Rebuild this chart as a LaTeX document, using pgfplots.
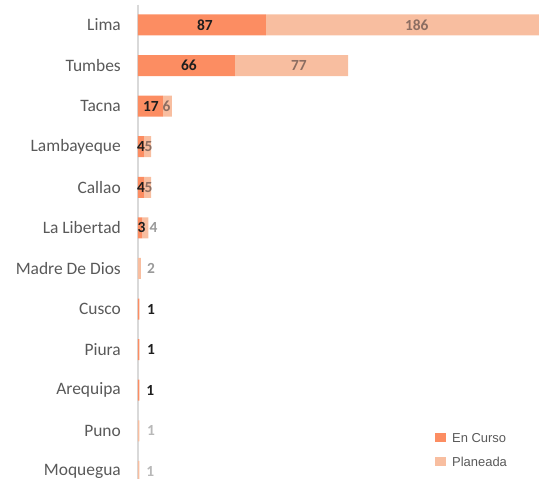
\documentclass[border=0pt]{standalone}
\usepackage{fontspec}
\setmainfont{Carlito}
\newfontfamily\legfont{Liberation Sans}
\usepackage{pgfplots}
\pgfplotsset{compat=1.18}
\usepackage{pgfplotstable}

\definecolor{encurso}{HTML}{FC8D62}
\definecolor{planeada}{HTML}{F8BEA0}
\definecolor{catgray}{HTML}{595959}
\definecolor{lbldark}{HTML}{1E1E1E}
\definecolor{lblbar}{HTML}{8C6E62}
\definecolor{lblout}{HTML}{9A9A9A}
\definecolor{lblfaint}{HTML}{B8B8B8}

\pgfplotstableread{
y encurso planeada
0 87 186
1 66 77
2 17 6
3 4 5
4 4 5
5 3 4
6 0 2
7 1 0
8 1 0
9 1 0
10 0 1
11 0 1
}\bardata

\pgfplotstableread{
x y lbl
45.6 0 87
34.7 1 66
8.8 2 17
2.0 3 4
2.0 4 4
2.4 5 3
8.8 7 1
8.8 8 1
8.4 9 1
}\lblencurso

\pgfplotstableread{
x y lbl
189.8 0 186
109.5 1 77
19.4 2 6
7.1 3 5
7.1 4 5
}\lblplanbar

\pgfplotstableread{
x y lbl
10.5 5 4
8.8 6 2
}\lblplanout

\pgfplotstableread{
x y lbl
8.8 10 1
8.4 11 1
}\lblplanfaint

\pgfplotsset{base/.style={width=401bp, height=487bp, scale only axis,
  xmin=0, xmax=273, ymin=-0.5, ymax=11.5, y dir=reverse}}

\begin{document}
\begin{tikzpicture}
\begin{axis}[base,
  xbar stacked, bar width=21bp,
  axis x line=none, axis y line*=left,
  y axis line style={draw=black!15, line width=1.3bp},
  ytick={0,...,11},
  yticklabels={Lima,Tumbes,Tacna,Lambayeque,Callao,La Libertad,Madre De Dios,Cusco,Piura,Arequipa,Puno,Moquegua},
  major tick length=0pt,
  yticklabel style={font=\fontsize{17.5}{20}\selectfont, text=catgray, inner sep=0pt, xshift=-17bp},
  legend image code/.code={\fill[#1] (0bp,-4.5bp) rectangle (11bp,4.5bp); \path (17bp,0bp);},
  legend cell align=left,
  legend style={at={(0.7406,0.1205)}, anchor=north west, draw=none, fill=none, inner sep=0pt,
    font=\legfont\fontsize{13}{15}\selectfont, text=catgray,
    nodes={inner sep=0pt, text height=9.5bp, text depth=0pt},
    row sep=14.5bp},
]
\addplot[fill=encurso, draw=none] table[x=encurso, y=y] {\bardata};
\addplot[fill=planeada, draw=none] table[x=planeada, y=y] {\bardata};
\legend{En Curso, Planeada}
\end{axis}
\begin{axis}[base, hide axis,
  nodes near coords, point meta=explicit symbolic,
  nodes near coords align=center,
  every node near coord/.append style={font=\bfseries\fontsize{15.5}{17}\selectfont, inner sep=0pt},
]
\addplot[draw=none, mark=none, nodes near coords style={text=lbldark}] table[x=x, y=y, meta=lbl] {\lblencurso};
\addplot[draw=none, mark=none, nodes near coords style={text=lblbar}] table[x=x, y=y, meta=lbl] {\lblplanbar};
\addplot[draw=none, mark=none, nodes near coords style={text=lblout}] table[x=x, y=y, meta=lbl] {\lblplanout};
\addplot[draw=none, mark=none, nodes near coords style={text=lblfaint}] table[x=x, y=y, meta=lbl] {\lblplanfaint};
\end{axis}
\pgfresetboundingbox
\path[use as bounding box] ([shift={(-138bp,4.7bp)}]current axis.north west) rectangle ([shift={(401bp,-474.3bp)}]current axis.north west);
\end{tikzpicture}
\end{document}
